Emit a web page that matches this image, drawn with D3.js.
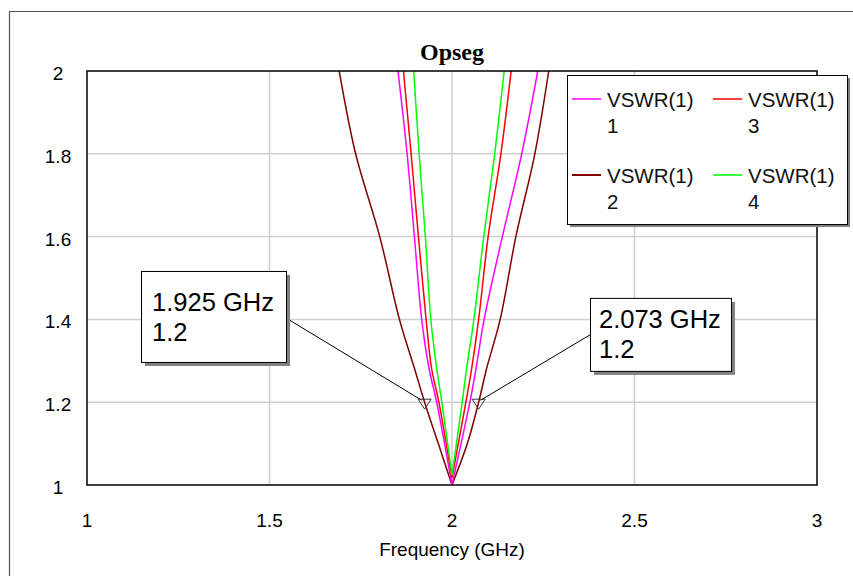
<!DOCTYPE html>
<html><head><meta charset="utf-8">
<script src="https://cdn.jsdelivr.net/npm/d3@7"></script>
<style>html,body{margin:0;padding:0;background:#fff;overflow:hidden}</style>
</head><body>
<svg id="c" width="853" height="576"></svg>
<script>
// ---- data ----
const xTicks = [1, 1.5, 2, 2.5, 3];
const yTicks = [1, 1.2, 1.4, 1.6, 1.8, 2];
const seriesNames = ["VSWR(1)\n1", "VSWR(1)\n2", "VSWR(1)\n3", "VSWR(1)\n4"];
const seriesColors = ["#ff00ff", "#800000", "#ff0000", "#00ff00"];
// frequency (GHz) / VSWR pairs
const freq1 = [1.852, 1.877, 1.897, 1.917, 1.937, 1.958, 2.0, 2.049, 2.066, 2.088, 2.138, 2.191, 2.235];
const vswr1 = [2.0,   1.8,   1.6,   1.4,   1.282, 1.2,   1.0, 1.2,   1.282, 1.4,   1.6,   1.8,   2.0];
const freq2 = [1.691, 1.736, 1.802, 1.856, 1.897, 1.925, 1.9625, 2.0, 2.042, 2.073, 2.095, 2.132, 2.175, 2.227, 2.265];
const vswr2 = [2.0,   1.8,   1.6,   1.4,   1.282, 1.2,   1.1,    1.0, 1.1,   1.2,   1.282, 1.4,   1.6,   1.8,   2.0];
const freq3 = [1.867, 1.888, 1.908, 1.929, 1.944, 1.964, 2.0,   2.038, 2.054, 2.073, 2.099, 2.134, 2.162];
const vswr3 = [2.0,   1.8,   1.6,   1.4,   1.282, 1.2,   1.017, 1.2,   1.282, 1.4,   1.6,   1.8,   2.0];
const freq4 = [1.895, 1.910, 1.927, 1.942, 1.958, 1.972, 2.0,   2.028, 2.040, 2.060, 2.087, 2.117, 2.143];
const vswr4 = [2.0,   1.8,   1.6,   1.4,   1.282, 1.2,   1.024, 1.2,   1.282, 1.4,   1.6,   1.8,   2.0];
const markerFreq = [1.925, 2.073];
const markerVswr = [1.2, 1.2];
const markerLabels = [["1.925 GHz", "1.2"], ["2.073 GHz", "1.2"]];
const titleText = "Opseg";
const xTitle = "Frequency (GHz)";

// ---- layout ----
const L = 87, R = 817, T = 71, B = 485;
const svg = d3.select("#c");
const x = d3.scaleLinear().domain([1, 3]).range([L, R]);
const y = d3.scaleLinear().domain([1, 2]).range([B, T]);

// outer frame
svg.append("path").attr("d", "M9.5,600 L9.5,11.5 L900,11.5")
  .attr("fill", "none").attr("stroke", "#555").attr("stroke-width", 1.2);

// grid
const g = svg.append("g");
g.selectAll(".gx").data(xTicks.slice(1, -1)).join("line")
  .attr("x1", d => x(d)).attr("x2", d => x(d)).attr("y1", T).attr("y2", B)
  .attr("stroke", "#d0d0d0").attr("stroke-width", 1.5);
g.selectAll(".gy").data(yTicks.slice(1, -1)).join("line")
  .attr("y1", d => y(d)).attr("y2", d => y(d)).attr("x1", L).attr("x2", R)
  .attr("stroke", "#d0d0d0").attr("stroke-width", 1.5);

// clip
svg.append("clipPath").attr("id", "clip").append("rect")
  .attr("x", L).attr("y", T).attr("width", R - L).attr("height", B - T);

const series = [
  d3.zip(freq1, vswr1), d3.zip(freq2, vswr2), d3.zip(freq3, vswr3), d3.zip(freq4, vswr4)
];
const line = d3.line().x(d => x(d[0])).y(d => y(d[1])).curve(d3.curveCatmullRom.alpha(0.5));
// draw each branch separately so the minimum stays a sharp V
function vPath(pts) {
  const m = d3.minIndex(pts, d => d[1]);
  return line(pts.slice(0, m + 1)) + line(pts.slice(m));
}
const order = [1, 0, 2, 3];
svg.append("g").attr("clip-path", "url(#clip)")
  .selectAll("path").data(order).join("path")
  .attr("d", i => vPath(series[i]))
  .attr("fill", "none").attr("stroke", i => seriesColors[i]).attr("stroke-width", 1.5)
  .attr("stroke-linejoin", "miter");

// plot border
svg.append("rect").attr("x", L).attr("y", T).attr("width", R - L).attr("height", B - T)
  .attr("fill", "none").attr("stroke", "#000").attr("stroke-width", 1.5);

// axes labels
const font = "'Liberation Sans', Arial, sans-serif";
svg.selectAll(".xt").data(xTicks).join("text")
  .attr("x", d => x(d)).attr("y", 527).attr("text-anchor", "middle")
  .attr("font-family", font).attr("font-size", 19).text(d => d);
svg.selectAll(".yt").data(yTicks).join("text")
  .attr("x", 58).attr("y", d => y(d) + 9).attr("text-anchor", "middle")
  .attr("font-family", font).attr("font-size", 19).text(d => d);
svg.append("text").attr("x", (L + R) / 2).attr("y", 556).attr("text-anchor", "middle")
  .attr("font-family", font).attr("font-size", 19).text(xTitle);
svg.append("text").attr("x", (L + R) / 2).attr("y", 60).attr("text-anchor", "middle")
  .attr("font-family", "'Liberation Serif', 'Times New Roman', serif").attr("font-weight", "bold")
  .attr("font-size", 24).text(titleText);

// markers + annotation boxes
const boxAnchors = [{f: 1.148, v: 1.517, w: 145, h: 91},
                    {f: 2.378, v: 1.452, w: 141, h: 73}];
markerFreq.forEach((mf, i) => {
  const px = x(mf), py = y(markerVswr[i]);
  const b = boxAnchors[i];
  const bx = x(b.f), by = y(b.v);
  const lx = i === 0 ? bx + b.w : bx;
  const ly = i === 0 ? by + 47 : by + 37;
  svg.append("line").attr("x1", lx).attr("y1", ly).attr("x2", px + (i === 0 ? -3 : 2)).attr("y2", py - 2)
    .attr("stroke", "#000").attr("stroke-width", 1);
  svg.append("path").attr("d", `M${px - 6.5},${py - 3} L${px + 6.5},${py - 3} L${px},${py + 7} Z`)
    .attr("fill", "none").attr("stroke", "#333").attr("stroke-width", 1);
  svg.append("rect").attr("x", bx + 4).attr("y", by + 4).attr("width", b.w).attr("height", b.h).attr("fill", "#808080");
  svg.append("rect").attr("x", bx + 0.5).attr("y", by + 0.5).attr("width", b.w).attr("height", b.h)
    .attr("fill", "#fff").attr("stroke", "#000").attr("stroke-width", 1);
  markerLabels[i].forEach((t, k) => {
    svg.append("text").attr("x", bx + (i === 0 ? 11 : 9)).attr("y", by + (i === 0 ? 40 : 30) + k * 30)
      .attr("font-family", font).attr("font-size", 25.5).text(t);
  });
});

// legend
const lgX = 567, lgY = 75, lgW = 280, lgH = 149;
svg.append("rect").attr("x", lgX + 3).attr("y", lgY + 3).attr("width", lgW).attr("height", lgH).attr("fill", "#808080");
svg.append("rect").attr("x", lgX + 0.5).attr("y", lgY + 0.5).attr("width", lgW).attr("height", lgH)
  .attr("fill", "#fff").attr("stroke", "#000").attr("stroke-width", 1);
const legPos = [[0, 0], [0, 1], [1, 0], [1, 1]];
seriesNames.forEach((name, i) => {
  const cx = lgX + 5 + legPos[i][0] * 141;
  const cy = lgY + 24 + legPos[i][1] * 76;
  svg.append("line").attr("x1", cx).attr("x2", cx + 29).attr("y1", cy).attr("y2", cy)
    .attr("stroke", seriesColors[i]).attr("stroke-width", i === 1 ? 2 : 1.5);
  name.split("\n").forEach((t, k) => {
    svg.append("text").attr("x", cx + 35).attr("y", cy + 8 + k * 26)
      .attr("font-family", font).attr("font-size", 20.5).attr("fill", "#111").text(t);
  });
});
</script>
</body></html>
